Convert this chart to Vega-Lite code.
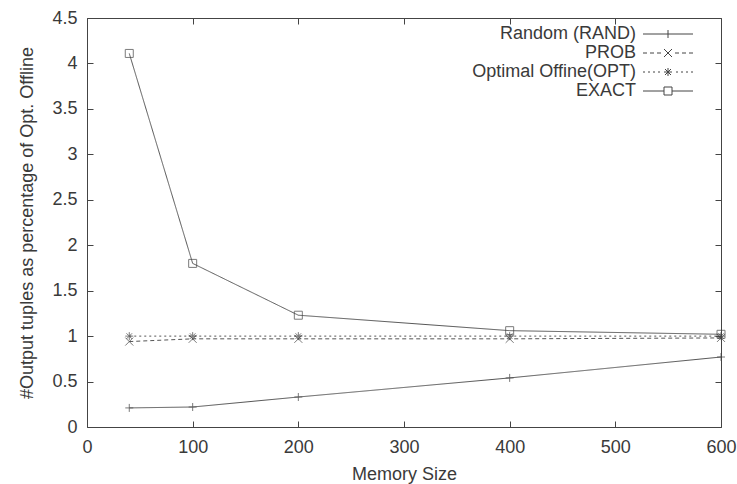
{
  "$schema": "https://vega.github.io/schema/vega-lite/v6.json",
  "width": 634,
  "height": 409,
  "autosize": "none",
  "padding": {"left": 87, "top": 18, "right": 16, "bottom": 57},
  "background": "white",
  "config": {
    "view": {"stroke": "#444", "strokeWidth": 1},
    "font": "Liberation Sans",
    "axis": {"grid": false, "domain": false, "tickColor": "#444", "tickSize": -6, "labelFlush": false, "labelFont": "Liberation Sans", "labelFontSize": 18, "labelColor": "#3a3a3a", "titleFont": "Liberation Sans", "titleFontSize": 18, "titleFontWeight": "normal", "titleColor": "#3a3a3a"}
  },
  "data": {"values": [
    {"x": 40, "y": 0.21, "series": "Random (RAND)"},
    {"x": 100, "y": 0.22, "series": "Random (RAND)"},
    {"x": 200, "y": 0.33, "series": "Random (RAND)"},
    {"x": 400, "y": 0.54, "series": "Random (RAND)"},
    {"x": 600, "y": 0.77, "series": "Random (RAND)"},
    {"x": 40, "y": 0.94, "series": "PROB"},
    {"x": 100, "y": 0.97, "series": "PROB"},
    {"x": 200, "y": 0.97, "series": "PROB"},
    {"x": 400, "y": 0.97, "series": "PROB"},
    {"x": 600, "y": 0.98, "series": "PROB"},
    {"x": 40, "y": 1.0, "series": "Optimal Offine(OPT)"},
    {"x": 100, "y": 1.0, "series": "Optimal Offine(OPT)"},
    {"x": 200, "y": 1.0, "series": "Optimal Offine(OPT)"},
    {"x": 400, "y": 1.0, "series": "Optimal Offine(OPT)"},
    {"x": 600, "y": 1.0, "series": "Optimal Offine(OPT)"},
    {"x": 40, "y": 4.11, "series": "EXACT"},
    {"x": 100, "y": 1.8, "series": "EXACT"},
    {"x": 200, "y": 1.23, "series": "EXACT"},
    {"x": 400, "y": 1.06, "series": "EXACT"},
    {"x": 600, "y": 1.02, "series": "EXACT"}
  ]},
  "layer": [
    {
      "mark": {"type": "line", "color": "#555", "strokeWidth": 1},
      "encoding": {
        "x": {"field": "x", "type": "quantitative", "scale": {"domain": [0, 600], "nice": false}, "axis": {"orient": "bottom", "title": "Memory Size", "values": [0,100,200,300,400,500,600], "labelPadding": 17, "titlePadding": 9}},
        "y": {"field": "y", "type": "quantitative", "scale": {"domain": [0, 4.5], "nice": false}, "axis": {"orient": "left", "title": "#Output tuples as percentage of Opt. Offline", "format": "~g", "values": [0,0.5,1,1.5,2,2.5,3,3.5,4,4.5], "labelPadding": 16, "titlePadding": 15}},
        "detail": {"field": "series"},
        "strokeDash": {"field": "series", "type": "nominal", "legend": null, "scale": {"domain": ["Random (RAND)", "PROB", "Optimal Offine(OPT)", "EXACT"], "range": [[1,0],[4,3],[2,3],[1,0]]}}
      }
    },
    {
      "mark": {"type": "point", "filled": false, "color": "#444", "strokeWidth": 1, "size": 64},
      "encoding": {
        "x": {"field": "x", "type": "quantitative", "axis": {"orient": "top", "labels": false, "title": null, "values": [0,100,200,300,400,500,600]}},
        "y": {"field": "y", "type": "quantitative", "axis": {"orient": "right", "labels": false, "title": null, "values": [0,0.5,1,1.5,2,2.5,3,3.5,4,4.5]}},
        "shape": {"field": "series", "type": "nominal", "legend": null, "scale": {"domain": ["Random (RAND)", "PROB", "Optimal Offine(OPT)", "EXACT"], "range": ["M-1,0L1,0M0,-1L0,1", "M-1,-1L1,1M-1,1L1,-1", "M-1,0L1,0M0,-1L0,1M-0.7,-0.7L0.7,0.7M-0.7,0.7L0.7,-0.7", "M-1,-1L1,-1L1,1L-1,1Z"]}}
      }
    },
    {
      "mark": {"type": "point", "filled": false, "color": "#444", "strokeWidth": 1, "opacity": 0},
      "encoding": {
        "x": {"field": "x", "type": "quantitative", "axis": null},
        "y": {"field": "y", "type": "quantitative", "axis": null},
        "shape": {"field": "series", "type": "nominal", "scale": {"domain": ["Random (RAND)", "PROB", "Optimal Offine(OPT)", "EXACT"], "range": [
          "M-5,0L5,0M0,-0.8L0,0.8",
          "M-5,0L-4.2,0M-3.6,0L-2.8,0M-2.2,0L-1.4,0M1.4,0L2.2,0M2.8,0L3.6,0M4.2,0L5,0M-0.8,-0.8L0.8,0.8M-0.8,0.8L0.8,-0.8",
          "M-5,0L-4.6,0M-4,0L-3.6,0M-3,0L-2.6,0M-2,0L-1.6,0M1.6,0L2,0M2.6,0L3,0M3.6,0L4,0M4.6,0L5,0M-0.8,0L0.8,0M0,-0.8L0,0.8M-0.6,-0.6L0.6,0.6M-0.6,0.6L0.6,-0.6",
          "M-5,0L-0.8,0M0.8,0L5,0M-0.8,-0.8L0.8,-0.8L0.8,0.8L-0.8,0.8Z"
        ]},
        "legend": {"title": null, "orient": "none", "legendX": 572, "legendY": 7, "symbolOpacity": 1, "symbolStrokeColor": "#444", "symbolFillColor": "transparent", "symbolStrokeWidth": 1, "symbolSize": 100, "labelAlign": "right", "labelOffset": -41, "labelFont": "Liberation Sans", "labelFontSize": 18, "labelColor": "#3a3a3a", "rowPadding": 1, "labelLimit": 300}}
      }
    }
  ],
  "resolve": {"scale": {"shape": "independent"}, "axis": {"x": "independent", "y": "independent"}}
}
